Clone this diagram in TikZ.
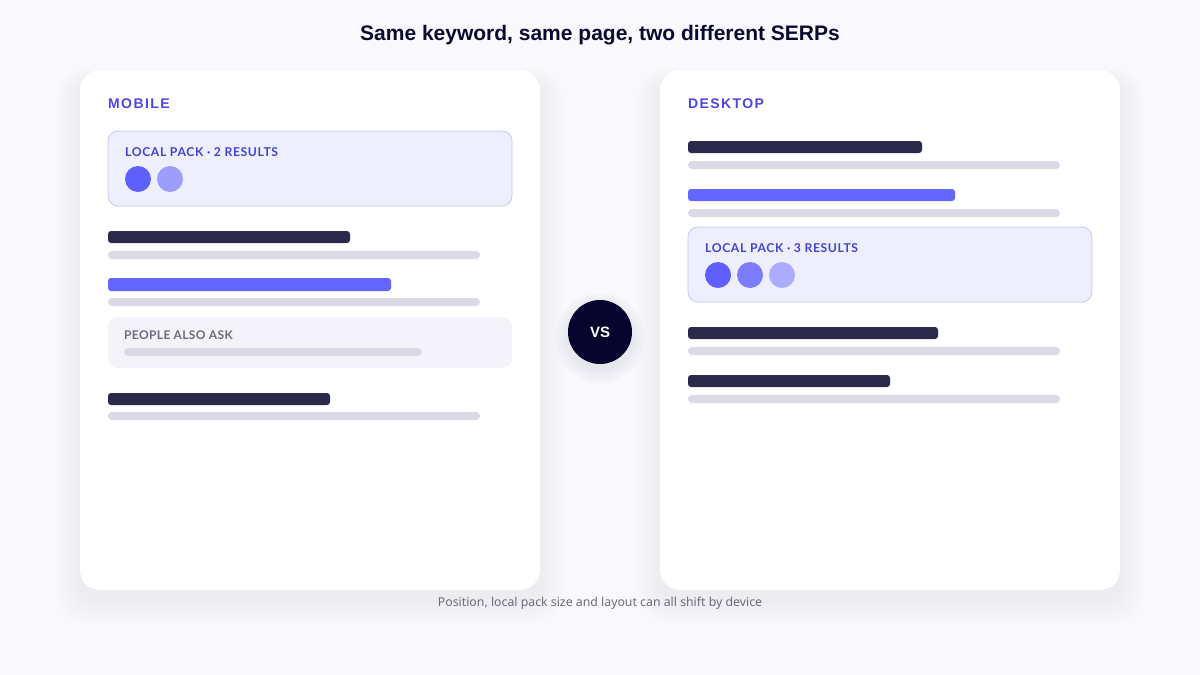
\documentclass[tikz,border=0pt]{standalone}
\usepackage{fontspec}
\setmainfont{Liberation Sans}
\newfontfamily\titlefont{Liberation Sans}
\newfontfamily\headfont[LetterSpace=10]{Liberation Sans}
\newfontfamily\packfont[LetterSpace=5]{Lato}
\newfontfamily\paafont[LetterSpace=3]{Lato}
\newfontfamily\capfont{Noto Sans}
\definecolor{bgc}{HTML}{F8F8FD}
\definecolor{titlec}{HTML}{0B0A2E}
\definecolor{indigoc}{HTML}{4F46E5}
\definecolor{packtxt}{HTML}{4444CF}
\definecolor{packfill}{HTML}{EEEFFC}
\definecolor{packline}{HTML}{C8C6F0}
\definecolor{darkbar}{HTML}{2B2A4C}
\definecolor{bluebar}{HTML}{6366FF}
\definecolor{graybar}{HTML}{DAD9E6}
\definecolor{paafill}{HTML}{F3F3F9}
\definecolor{paatxt}{HTML}{6B6B80}
\definecolor{vsc}{HTML}{07052E}
\definecolor{capc}{HTML}{6B6B7B}
\definecolor{dotA}{HTML}{5F5FFF}
\definecolor{dotB}{HTML}{7C7CFF}
\definecolor{dotC}{HTML}{ABABFF}
\definecolor{dotL}{HTML}{9D9DFB}
\definecolor{shadowc}{HTML}{4A4A90}
\begin{document}
\begin{tikzpicture}[x=1pt,y=-1pt,
  card/.style={fill=white, rounded corners=20pt},
  pack/.style={fill=packfill, draw=packline, line width=0.8pt, rounded corners=10pt},
  paa/.style={fill=paafill, rounded corners=10pt},
  dbar/.style={fill=darkbar, rounded corners=3pt},
  bbar/.style={fill=bluebar, rounded corners=3pt},
  gbar/.style={fill=graybar, rounded corners=4pt},
  head/.style={anchor=west, inner sep=0pt, text=indigoc, font=\headfont\bfseries\fontsize{14}{16}\selectfont},
  packlbl/.style={anchor=west, inner sep=0pt, text=packtxt, font=\packfont\bfseries\fontsize{12.2}{14}\selectfont},
  dot/.style={circle, minimum size=26pt, inner sep=0pt},
]
\useasboundingbox (0,0) rectangle (1200,675);
\fill[bgc] (0,0) rectangle (1200,675);

% title
\node[text=titlec, font=\titlefont\bfseries\fontsize{21}{25}\selectfont] (title) at (600,35.5) {Same keyword, same page, two different SERPs};

% shadows
\foreach \i in {1,...,12}{
  \fill[shadowc, opacity=0.005, rounded corners=20pt+\i pt] (80-\i*2,70-\i*1+10) rectangle (540+\i*2,590+\i*2+10);
  \fill[shadowc, opacity=0.005, rounded corners=20pt+\i pt] (660-\i*2,70-\i*1+10) rectangle (1120+\i*2,590+\i*2+10);
}
\foreach \i in {1,...,8}{
  \fill[shadowc, opacity=0.012] (600,338) circle (31+\i*1.8);
}

% cards
\fill[card] (80,70) rectangle (540,590);
\fill[card] (660,70) rectangle (1120,590);

% ---------- mobile ----------
\node[head] (mob) at (108,104) {MOBILE};
\draw[pack] (108,131) rectangle (512,206);
\node[packlbl] (mpack) at (125,152.5) {LOCAL PACK · 2 RESULTS};
\node[dot, fill=dotA] (m1) at (138,179) {};
\node[dot, fill=dotL] (m2) at (170,179) {};

\fill[dbar] (108,231) rectangle (350,243);
\fill[gbar] (108,251) rectangle (480,259);
\fill[bbar] (108,278) rectangle (391,291);
\fill[gbar] (108,298) rectangle (480,306);

\fill[paa] (108,317) rectangle (512,368);
\node[anchor=west, inner sep=0pt, text=paatxt, font=\paafont\bfseries\fontsize{12}{14}\selectfont] (paa) at (124,335) {PEOPLE ALSO ASK};
\fill[gbar] (124,348) rectangle (422,356);

\fill[dbar] (108,393) rectangle (330,405);
\fill[gbar] (108,412) rectangle (480,420);

% ---------- desktop ----------
\node[head] (desk) at (688,104) {DESKTOP};
\fill[dbar] (688,141) rectangle (922,153);
\fill[gbar] (688,161) rectangle (1060,169);
\fill[bbar] (688,189) rectangle (955,201);
\fill[gbar] (688,209) rectangle (1060,217);

\draw[pack] (688,227) rectangle (1092,302);
\node[packlbl] (dpack) at (705,248.5) {LOCAL PACK · 3 RESULTS};
\node[dot, fill=dotA] (d1) at (718,275) {};
\node[dot, fill=dotB] (d2) at (750,275) {};
\node[dot, fill=dotC] (d3) at (782,275) {};

\fill[dbar] (688,327) rectangle (938,339);
\fill[gbar] (688,347) rectangle (1060,355);
\fill[dbar] (688,375) rectangle (890,387);
\fill[gbar] (688,395) rectangle (1060,403);

% VS
\node[circle, fill=vsc, minimum size=64pt, inner sep=0pt, text=white, font=\titlefont\bfseries\fontsize{15}{18}\selectfont] (vs) at (600,332) {VS};

% caption
\node[text=capc, font=\capfont\fontsize{12.3}{14}\selectfont] (cap) at (600,603.5) {Position, local pack size and layout can all shift by device};
\end{tikzpicture}
\end{document}
